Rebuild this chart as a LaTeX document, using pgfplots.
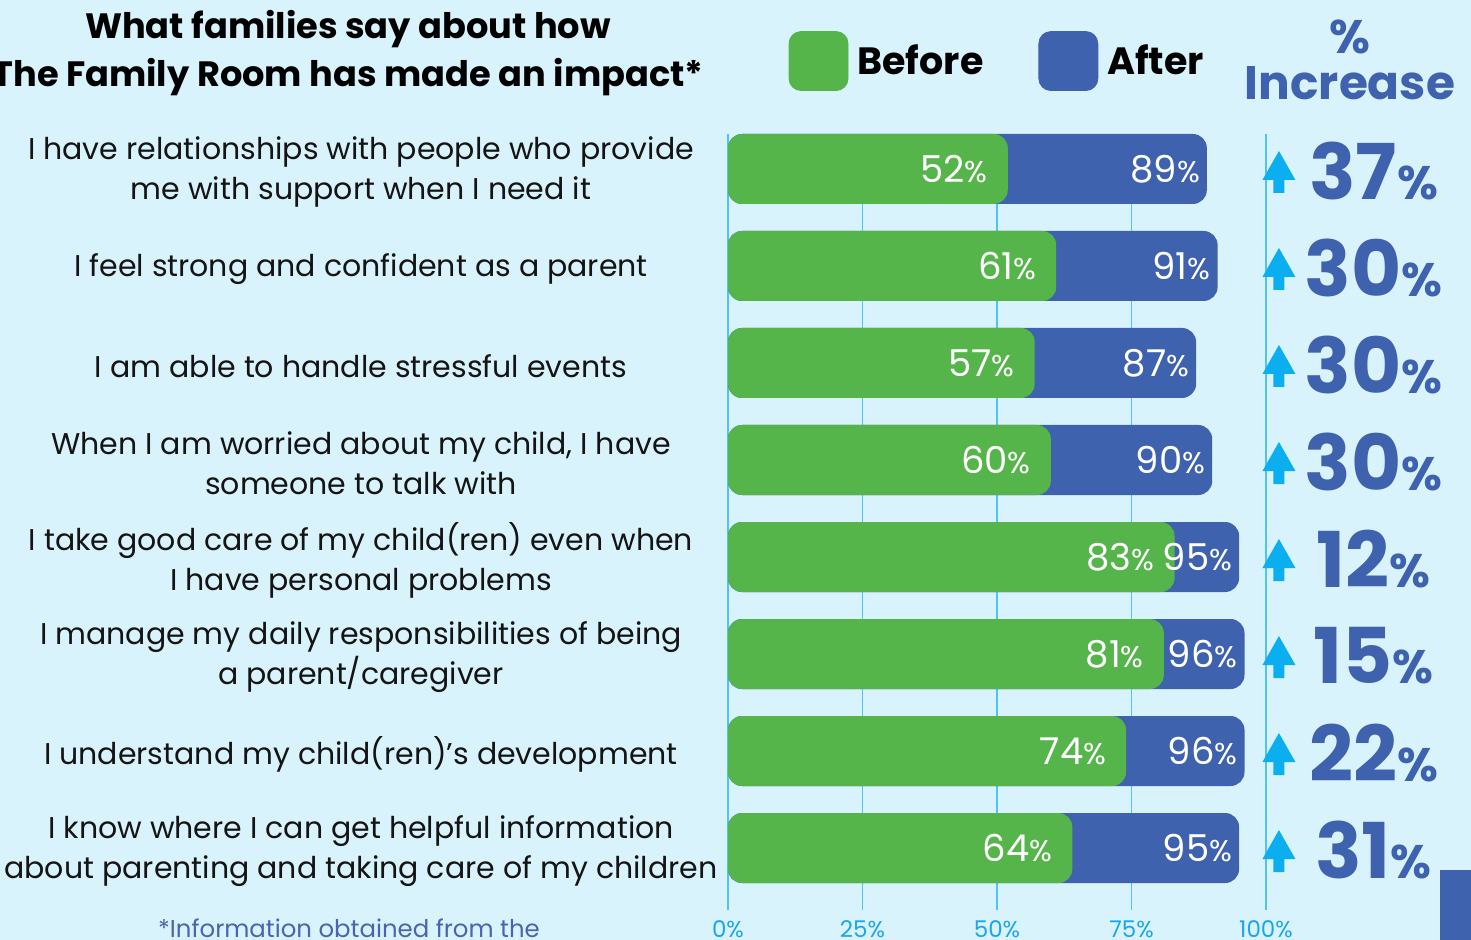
\documentclass[border=0pt]{standalone}
\usepackage{pgfplots}
\usepackage{pgfplotstable}
\pgfplotsset{compat=1.18}
\usepackage{fontspec}
\setmainfont{Poppins}
\definecolor{bg}{HTML}{D9F3FC}
\definecolor{grn}{HTML}{55B54A}
\definecolor{blu}{HTML}{3F62AE}
\definecolor{arr}{HTML}{0BAEEF}
\definecolor{gridc}{HTML}{4FC3F5}
\definecolor{tickc}{HTML}{1AA6EA}
\definecolor{note}{HTML}{4A64B0}
\definecolor{txt}{HTML}{141414}

\pgfdeclareplotmark{uparrow}{%
  \pgfpathmoveto{\pgfqpoint{0pt}{9pt}}%
  \pgfpathlineto{\pgfqpoint{8.25pt}{-5.5pt}}%
  \pgfpathlineto{\pgfqpoint{2.75pt}{-5.5pt}}%
  \pgfpathlineto{\pgfqpoint{2.75pt}{-12pt}}%
  \pgfpathlineto{\pgfqpoint{-2.75pt}{-12pt}}%
  \pgfpathlineto{\pgfqpoint{-2.75pt}{-5.5pt}}%
  \pgfpathlineto{\pgfqpoint{-8.25pt}{-5.5pt}}%
  \pgfpathclose
  \pgfusepathqfill
}

\pgfplotstableread{
idx before after
0 52 89
1 61 91
2 57 87
3 60 90
4 83 95
5 81 96
6 74 96
7 64 95
}\data

\begin{document}
\begin{tikzpicture}
\useasboundingbox (0,0) rectangle (735.5pt,470pt);
\fill[bg] (0,0) rectangle (735.5pt,470pt);
\begin{axis}[
  at={(364pt,15pt)}, anchor=south west,
  scale only axis, width=371.5pt, height=388pt,
  x filter/.code={\pgfmathparse{#1+10}},
  xmin=10, xmax=148.1,
  ymin=-0.3608, ymax=7.639, y dir=reverse,
  xbar, bar width=35pt, bar shift=0pt,
  axis line style={draw=none},
  major tick length=0pt,
  xtick={10,35,60,85,110},
  xticklabels={0\%,25\%,50\%,75\%,100\%},
  xticklabel style={text=tickc, font=\fontsize{11.5}{12}\selectfont, yshift=-2pt},
  xmajorgrids, grid style={gridc, line width=0.8pt},
  ytick={0,1,2,3,4,5,6,7},
  yticklabels={
    {I have relationships with people who provide\\me with support when I need it},
    {I feel strong and confident as a parent},
    {I am able to handle stressful events},
    {When I am worried about my child, I have\\someone to talk with},
    {I take good care of my child(ren) even when\\I have personal problems},
    {I manage my daily responsibilities of being\\a parent/caregiver},
    {I understand my child(ren)'s development},
    {I know where I can get helpful information\\about parenting and taking care of my children}},
  yticklabel style={align=center, anchor=center, xshift=-183.5pt, yshift=-1.5pt, text=txt,
    font=\fontsize{15}{20}\selectfont},
  legend columns=2,
  legend style={draw=none, fill=none, at={(axis description cs:0.073,1.094)}, anchor=west,
    font=\fontsize{19}{21}\selectfont\bfseries, text=black,
    /tikz/every even column/.append style={column sep=25.5pt},
    /tikz/every odd column/.append style={column sep=2.5pt}},
]
\addlegendimage{legend image code/.code={\fill[grn, rounded corners=6pt] (0pt,-14.75pt) rectangle (29.5pt,14.75pt);}}
\addlegendentry{Before}
\addlegendimage{legend image code/.code={\fill[blu, rounded corners=6pt] (0pt,-14.75pt) rectangle (29.5pt,14.75pt);}}
\addlegendentry{After}

\addplot[forget plot, fill=blu, draw=none, rounded corners=7pt,
  point meta=explicit symbolic,
  nodes near coords={\fontsize{18.5}{20}\selectfont\pgfplotspointmeta{\fontsize{15}{16}\selectfont\%}},
  every node near coord/.append style={anchor=east, xshift=0pt, text=white}]
  table[x=after, y=idx, meta=after]{\data};
\addplot[forget plot, fill=grn, draw=none, rounded corners=7pt,
  point meta=explicit symbolic,
  nodes near coords={\fontsize{18.5}{20}\selectfont\pgfplotspointmeta{\fontsize{15}{16}\selectfont\%}},
  every node near coord/.append style={anchor=east, xshift=-6.5pt, text=white}]
  table[x=before, y=idx, meta=before]{\data};

\addplot[forget plot, xbar=0pt, draw=none, only marks, mark=uparrow, color=arr]
  coordinates {(102.4,0) (102.4,1) (102.4,2) (102.4,3) (102.4,4) (102.4,5) (102.4,6) (102.4,7)};

\addplot[forget plot, draw=none, mark=none, point meta=explicit symbolic,
  nodes near coords={\bfseries\fontsize{38.5}{40}\selectfont\pgfplotspointmeta{\fontsize{23.5}{24}\selectfont\%}},
  every node near coord/.append style={anchor=center, text=blu, yshift=-1pt}]
  coordinates {(120,0) [37] (120,1) [30] (120,2) [30] (120,3) [30] (120,4) [12] (120,5) [15] (120,6) [22] (120,7) [31]};
\end{axis}
\node[align=center, font=\fontsize{17.6}{24}\selectfont\bfseries, text=black] at (174pt,443.5pt)
  {What families say about how\\The Family Room has made an impact*};
\node[align=center, font=\fontsize{23.5}{23}\selectfont\bfseries, text=blu] at (675pt,440pt)
  {\%\\Increase};
\node[font=\fontsize{12.2}{14}\selectfont, text=note] at (174.5pt,6pt) {*Information obtained from the};
\fill[blu] (720pt,0pt) rectangle (735.5pt,35pt);
\end{tikzpicture}
\end{document}
